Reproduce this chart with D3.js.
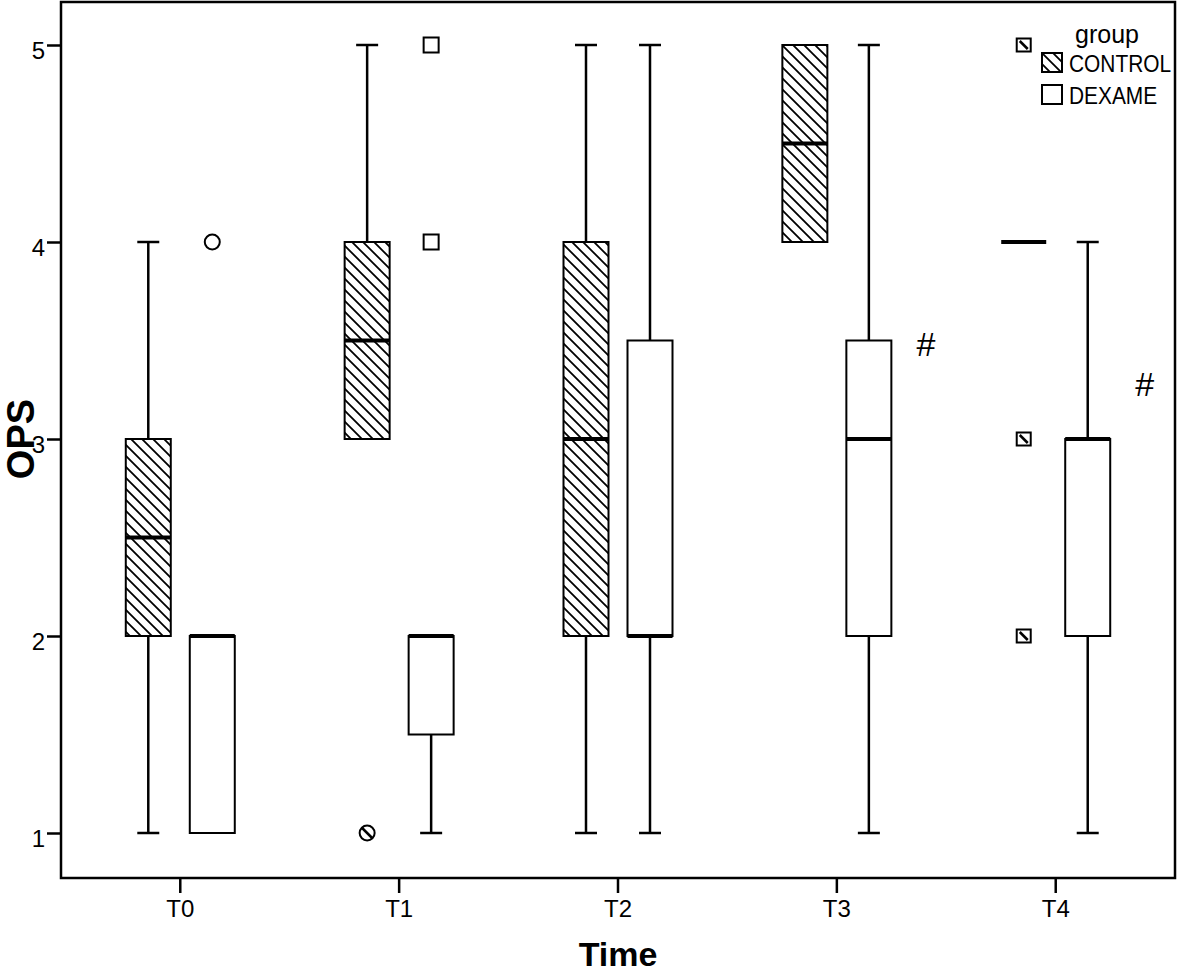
<!DOCTYPE html>
<html>
<head>
<meta charset="utf-8">
<script src="https://cdn.jsdelivr.net/npm/d3@7"></script>
<style>
  body { margin: 0; background: #fff; }
  svg { display: block; font-family: "Liberation Sans", Arial, sans-serif; }
</style>
</head>
<body>
<svg width="1181" height="975"></svg>
<script>
const times = ["T0", "T1", "T2", "T3", "T4"];
const groups = ["CONTROL", "DEXAME"];
const yTicks = [1, 2, 3, 4, 5];

const controlLow = [1, 3, 1, 4, 4];
const controlQ1 = [2, 3, 2, 4, 4];
const controlMedian = [2.5, 3.5, 3, 4.5, 4];
const controlQ3 = [3, 4, 4, 5, 4];
const controlHigh = [4, 5, 5, 5, 4];

const dexameLow = [1, 1, 1, 1, 1];
const dexameQ1 = [1, 1.5, 2, 2, 2];
const dexameMedian = [2, 2, 2, 3, 3];
const dexameQ3 = [2, 2, 3.5, 3.5, 3];
const dexameHigh = [2, 2, 5, 5, 4];

const outliers = [
  { time: "T0", group: "DEXAME", value: 4, shape: "circle" },
  { time: "T1", group: "CONTROL", value: 1, shape: "slashcircle" },
  { time: "T1", group: "DEXAME", value: 4, shape: "square" },
  { time: "T1", group: "DEXAME", value: 5, shape: "square" },
  { time: "T4", group: "CONTROL", value: 5, shape: "hatchsquare" },
  { time: "T4", group: "CONTROL", value: 3, shape: "hatchsquare" },
  { time: "T4", group: "CONTROL", value: 2, shape: "hatchsquare" },
];

const marks = [
  { time: "T3", value: 3.48, label: "#" },
  { time: "T4", value: 3.28, label: "#" },
];

const plotLeft = 61, plotRight = 1175, plotTop = 2, plotBottom = 878;
const boxW = 45, capW = 22;

const svg = d3.select("svg");

const defs = svg.append("defs");
defs.append("pattern")
  .attr("id", "hatch")
  .attr("patternUnits", "userSpaceOnUse")
  .attr("width", 11)
  .attr("height", 11)
  .append("path")
  .attr("d", "M0,0L11,11M-2,9L2,13M9,-2L13,2")
  .attr("stroke", "#000")
  .attr("stroke-width", 1.8);

const x = d3.scaleBand().domain(times).range([plotLeft, plotRight]).paddingOuter(0.045);
const xGroup = d3.scaleBand().domain(groups).range([-64, 64]);
const y = d3.scaleLinear().domain([1, 5]).range([833, 45]);

const cx = (t, g) => x(t) + x.bandwidth() / 2 + xGroup(g) + xGroup.bandwidth() / 2;

const boxes = [];
times.forEach((t, i) => {
  boxes.push({ time: t, group: "CONTROL", low: controlLow[i], q1: controlQ1[i], med: controlMedian[i], q3: controlQ3[i], high: controlHigh[i] });
  boxes.push({ time: t, group: "DEXAME", low: dexameLow[i], q1: dexameQ1[i], med: dexameMedian[i], q3: dexameQ3[i], high: dexameHigh[i] });
});

// axes
const yAxis = svg.append("g")
  .attr("transform", `translate(${plotLeft},0)`)
  .call(d3.axisLeft(y).tickValues(yTicks).tickFormat(d3.format("d")).tickSize(14).tickPadding(2));

const xAxis = svg.append("g")
  .attr("transform", `translate(0,${plotBottom})`)
  .call(d3.axisBottom(x).tickSize(15).tickPadding(7));

[yAxis, xAxis].forEach((a) => {
  a.attr("font-size", 24).attr("font-family", "Liberation Sans, Arial, sans-serif");
  a.select(".domain").remove();
  a.selectAll(".tick line").attr("stroke", "#000").attr("stroke-width", 2.5);
  a.selectAll(".tick text").attr("fill", "#000");
});
yAxis.selectAll(".tick text").attr("dy", "0.55em");

// whiskers
const bx = svg.append("g").selectAll("g").data(boxes).join("g");

bx.filter((d) => d.high > d.q3).each(function (d) {
  const g = d3.select(this);
  const c = cx(d.time, d.group);
  g.append("line").attr("x1", c).attr("x2", c).attr("y1", y(d.q3)).attr("y2", y(d.high));
  g.append("line").attr("x1", c - capW / 2).attr("x2", c + capW / 2).attr("y1", y(d.high)).attr("y2", y(d.high));
});
bx.filter((d) => d.low < d.q1).each(function (d) {
  const g = d3.select(this);
  const c = cx(d.time, d.group);
  g.append("line").attr("x1", c).attr("x2", c).attr("y1", y(d.q1)).attr("y2", y(d.low));
  g.append("line").attr("x1", c - capW / 2).attr("x2", c + capW / 2).attr("y1", y(d.low)).attr("y2", y(d.low));
});
bx.selectAll("line").attr("stroke", "#000").attr("stroke-width", 2.5);

bx.filter((d) => d.q3 > d.q1)
  .append("rect")
  .attr("x", (d) => cx(d.time, d.group) - boxW / 2)
  .attr("y", (d) => y(d.q3))
  .attr("width", boxW)
  .attr("height", (d) => y(d.q1) - y(d.q3))
  .attr("fill", (d) => (d.group === "CONTROL" ? "url(#hatch)" : "#fff"))
  .attr("stroke", "#000")
  .attr("stroke-width", 2);

bx.append("line")
  .attr("x1", (d) => cx(d.time, d.group) - boxW / 2)
  .attr("x2", (d) => cx(d.time, d.group) + boxW / 2)
  .attr("y1", (d) => y(d.med))
  .attr("y2", (d) => y(d.med))
  .attr("stroke", "#000")
  .attr("stroke-width", 4);

// outliers
const out = svg.append("g").selectAll("g").data(outliers).join("g")
  .attr("transform", (d) => `translate(${cx(d.time, d.group)},${y(d.value)})`);

out.filter((d) => d.shape === "circle" || d.shape === "slashcircle")
  .append("circle").attr("r", 7.5).attr("fill", "#fff").attr("stroke", "#000").attr("stroke-width", 2);
out.filter((d) => d.shape === "slashcircle")
  .append("line").attr("x1", -5).attr("y1", -5).attr("x2", 5).attr("y2", 5).attr("stroke", "#000").attr("stroke-width", 2.5);
out.filter((d) => d.shape === "square")
  .append("rect").attr("x", -7.5).attr("y", -7.5).attr("width", 15).attr("height", 15)
  .attr("fill", "#fff").attr("stroke", "#000").attr("stroke-width", 2);
out.filter((d) => d.shape === "hatchsquare").each(function () {
  const g = d3.select(this);
  g.append("rect").attr("x", -7).attr("y", -6.5).attr("width", 14).attr("height", 13)
    .attr("fill", "#fff").attr("stroke", "#000").attr("stroke-width", 2);
  g.append("line").attr("x1", -4).attr("y1", -4).attr("x2", 4).attr("y2", 4).attr("stroke", "#000").attr("stroke-width", 2.5);
});

// significance marks
svg.append("g").selectAll("text").data(marks).join("text")
  .attr("x", (d) => cx(d.time, "DEXAME") + 57)
  .attr("y", (d) => y(d.value) + 12)
  .attr("text-anchor", "middle")
  .style("font-size", "34px")
  .text((d) => d.label);

// frame
svg.append("rect")
  .attr("x", plotLeft).attr("y", plotTop)
  .attr("width", plotRight - plotLeft).attr("height", plotBottom - plotTop)
  .attr("fill", "none").attr("stroke", "#000").attr("stroke-width", 2.5);

// titles
svg.append("text")
  .attr("x", x("T2") + x.bandwidth() / 2).attr("y", 966)
  .attr("text-anchor", "middle")
  .style("font-size", "34px").style("font-weight", "bold")
  .text("Time");
svg.append("text")
  .attr("transform", `translate(34,${y(3)}) rotate(-90)`)
  .attr("text-anchor", "middle")
  .style("font-size", "38px").style("font-weight", "bold")
  .text("OPS");

// legend
const legend = svg.append("g");
legend.append("text").attr("x", 1075).attr("y", 43).style("font-size", "25px").text("group");
const li = legend.selectAll("g").data(groups).join("g")
  .attr("transform", (d, i) => `translate(1042,${53 + i * 32})`);
li.append("rect").attr("width", 20).attr("height", 19)
  .attr("fill", (d) => (d === "CONTROL" ? "url(#hatch)" : "#fff"))
  .attr("stroke", "#000").attr("stroke-width", 2);
li.append("text")
  .attr("transform", "translate(27,19) scale(0.87,1)")
  .style("font-size", "24px")
  .text((d) => d);
</script>
</body>
</html>
